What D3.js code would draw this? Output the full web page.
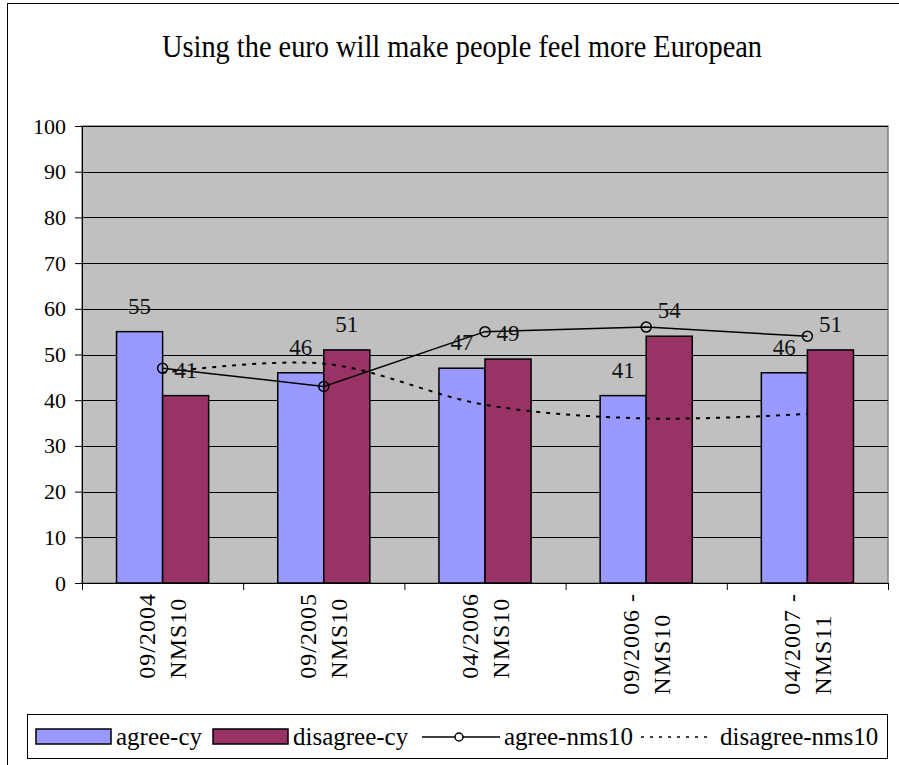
<!DOCTYPE html>
<html><head><meta charset="utf-8">
<script src="https://cdn.jsdelivr.net/npm/d3@7"></script>
<style>body{margin:0;background:#fff}svg{display:block}</style>
</head><body><svg id="c" width="899" height="765"></svg>
<script>
const title = "Using the euro will make people feel more European";
const categories = [["09/2004","NMS10"],["09/2005","NMS10"],["04/2006","NMS10"],["09/2006 -","NMS10"],["04/2007 -","NMS11"]];
const agreeCy = [55,46,47,41,46];
const disagreeCy = [41,51,49,54,51];
const agreeNms10 = [47,43,55,56,54];
const disagreeNms10 = [46,48,39,36,37];
const yTicks = [0,10,20,30,40,50,60,70,80,90,100];
const seriesNames = ["agree-cy","disagree-cy","agree-nms10","disagree-nms10"];
const barColors = ["#9999FF","#993366"];
const FONT = "'Liberation Serif'";

const svg = d3.select("#c");
svg.append("rect").attr("x",7.5).attr("y",3.5).attr("width",1000).attr("height",1000).attr("fill","#fff").attr("stroke","#000");

function txt(sel){ return sel.append("text").style("font-family",FONT).attr("fill","#000"); }

txt(svg).attr("x",462).attr("y",57).attr("text-anchor","middle").attr("font-size",31)
  .attr("textLength",600).attr("lengthAdjust","spacingAndGlyphs").text(title);

const L=82,R=888,T=126,B=583;
const idx = categories.map((d,i)=>i);
const x = d3.scaleBand().domain(idx).range([L,R]).padding(0);
const xs = d3.scaleBand().domain([0,1]).range([0,x.bandwidth()]).paddingInner(0).paddingOuter(0.75);
const y = d3.scaleLinear().domain([0,100]).range([B,T]);

svg.append("rect").attr("x",L).attr("y",T).attr("width",R-L).attr("height",B-T).attr("fill","#C0C0C0").attr("stroke","#808080").attr("stroke-width",1.5);

svg.append("g").selectAll("line").data(yTicks.filter(t=>t>0)).join("line")
  .attr("x1",L).attr("x2",R).attr("y1",d=>Math.round(y(d))+0.5).attr("y2",d=>Math.round(y(d))+0.5).attr("stroke","#000").attr("stroke-width",1);

const series = [agreeCy, disagreeCy];
series.forEach((vals,s)=>{
  svg.append("g").selectAll("rect").data(vals).join("rect")
    .attr("x",(d,i)=>x(i)+xs(s)).attr("width",xs.bandwidth())
    .attr("y",d=>y(d)).attr("height",d=>B-y(d))
    .attr("fill",barColors[s]).attr("stroke","#000").attr("stroke-width",1.5);
});

const yAxis = d3.axisLeft(y).tickValues(yTicks).tickSize(7).tickPadding(9).tickFormat(d3.format("d"));
const ya = svg.append("g").attr("transform",`translate(${L},0)`).call(yAxis);
ya.selectAll("text").attr("font-size",22).style("font-family",FONT).attr("fill","#000");
ya.selectAll("line,path").attr("stroke","#000");

const xb = d3.scaleLinear().domain([0,categories.length]).range([L,R]);
const xAxis = d3.axisBottom(xb).tickValues(d3.range(categories.length+1)).tickSize(7).tickFormat("");
const xa = svg.append("g").attr("transform",`translate(0,${B})`).call(xAxis);
xa.selectAll("line,path").attr("stroke","#000");

const lineGap = 31, topY = 593;
categories.forEach((lines,i)=>{
  const cx = x(i)+x.bandwidth()/2;
  const g = svg.append("g");
  const texts = lines.map((t,k)=>txt(g).attr("font-size",24).style("letter-spacing","1px").text(t));
  const lens = texts.map(t=>t.node().getComputedTextLength());
  const maxLen = Math.max(...lens);
  texts.forEach((t,k)=>{
    const bx = cx + (k-(lines.length-1)/2)*lineGap + 8;
    t.attr("transform",`translate(${bx},${topY+maxLen}) rotate(-90)`).attr("text-anchor","start");
  });
});

const cx = i=>x(i)+x.bandwidth()/2;
svg.append("path").datum(disagreeNms10).attr("fill","none").attr("stroke","#000").attr("stroke-width",2).attr("stroke-dasharray","4,6")
  .attr("d",d3.line().x((d,i)=>cx(i)).y(d=>y(d)).curve(d3.curveCatmullRom.alpha(0.5)));
svg.append("path").datum(agreeNms10).attr("fill","none").attr("stroke","#000").attr("stroke-width",1.5)
  .attr("d",d3.line().x((d,i)=>cx(i)).y(d=>y(d)));
svg.append("g").selectAll("circle").data(agreeNms10).join("circle")
  .attr("cx",(d,i)=>cx(i)).attr("cy",d=>y(d)).attr("r",5).attr("fill","none").attr("stroke","#000").attr("stroke-width",1.5);

series.forEach((vals,s)=>{
  const g = svg.append("g");
  vals.forEach((d,i)=>{
    txt(g).attr("x",x(i)+xs(s)+xs.bandwidth()/2).attr("y",y(d)-18)
      .attr("text-anchor","middle").attr("font-size",23).attr("fill","#111").text(d);
  });
});

svg.append("rect").attr("x",27.5).attr("y",714.5).attr("width",860).attr("height",44).attr("fill","#fff").attr("stroke","#000");
const ly = 737;
const leg = svg.append("g");
leg.append("rect").attr("x",36).attr("y",729).attr("width",75).attr("height",15).attr("fill",barColors[0]).attr("stroke","#000").attr("stroke-width",1.5);
txt(leg).attr("x",116).attr("y",ly+8).attr("font-size",25).text(seriesNames[0]);
leg.append("rect").attr("x",213).attr("y",729).attr("width",75).attr("height",15).attr("fill",barColors[1]).attr("stroke","#000").attr("stroke-width",1.5);
txt(leg).attr("x",293).attr("y",ly+8).attr("font-size",25).text(seriesNames[1]);
leg.append("line").attr("x1",422).attr("x2",500).attr("y1",ly).attr("y2",ly).attr("stroke","#000").attr("stroke-width",1.5);
leg.append("circle").attr("cx",459).attr("cy",ly).attr("r",4).attr("fill","#fff").attr("stroke","#000").attr("stroke-width",1.5);
txt(leg).attr("x",504).attr("y",ly+8).attr("font-size",25).text(seriesNames[2]);
leg.append("line").attr("x1",641).attr("x2",712).attr("y1",ly).attr("y2",ly).attr("stroke","#000").attr("stroke-width",1.5).attr("stroke-dasharray","3,6");
txt(leg).attr("x",720).attr("y",ly+8).attr("font-size",25).text(seriesNames[3]);
</script></body></html>
